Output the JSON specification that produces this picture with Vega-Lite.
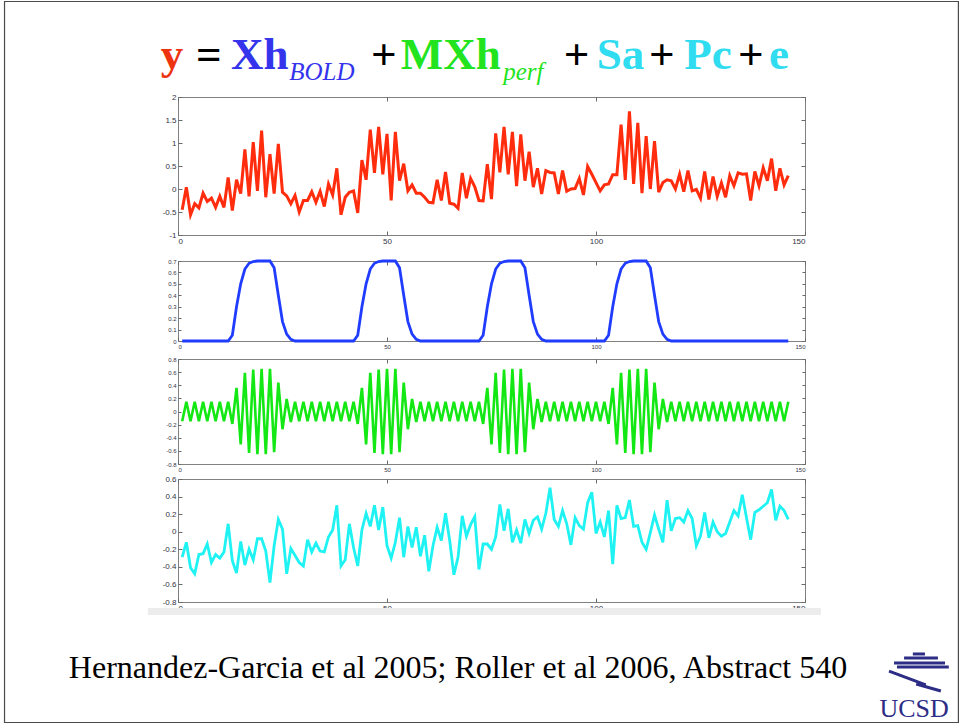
{
"$schema": "https://vega.github.io/schema/vega-lite/v6.json",
"background": "white",
"padding": {"left": 3, "top": 0, "right": 2, "bottom": 1},
"bounds": "flush",
"spacing": 0,
"config": {
  "view": {"stroke": "#808080", "strokeWidth": 1},
  "axis": {"grid": false, "domain": false, "labelFont": "Liberation Sans", "labelColor": "#333344", "tickColor": "#6a6a6a", "tickSize": -4, "labelPadding": 6, "zindex": 1}
},
"datasets": {
"sig": [
{"t":1,"y":-0.45,"b":0,"g":-0.15,"n":-0.29},{"t":2,"y":0.04,"b":0,"g":0.15,"n":-0.12},{"t":3,"y":-0.56,"b":0,"g":-0.15,"n":-0.41},{"t":4,"y":-0.32,"b":0,"g":0.15,"n":-0.48},{"t":5,"y":-0.41,"b":0,"g":-0.15,"n":-0.26},
{"t":6,"y":-0.09,"b":0,"g":0.15,"n":-0.25},{"t":7,"y":-0.27,"b":0,"g":-0.15,"n":-0.14},{"t":8,"y":-0.2,"b":0,"g":0.15,"n":-0.35},{"t":9,"y":-0.4,"b":0,"g":-0.15,"n":-0.26},{"t":10,"y":-0.16,"b":0,"g":0.15,"n":-0.3},
{"t":11,"y":-0.4,"b":0,"g":-0.15,"n":-0.23},{"t":12,"y":0.25,"b":0,"g":0.15,"n":0.09},{"t":13,"y":-0.47,"b":0.05,"g":-0.19,"n":-0.33},{"t":14,"y":0.2,"b":0.3,"g":0.36,"n":-0.47},{"t":15,"y":-0.1,"b":0.5,"g":-0.5,"n":-0.11},
{"t":16,"y":0.86,"b":0.63,"g":0.59,"n":-0.38},{"t":17,"y":-0.16,"b":0.68,"g":-0.63,"n":-0.2},{"t":18,"y":1.02,"b":0.695,"g":0.64,"n":-0.32},{"t":19,"y":-0.04,"b":0.7,"g":-0.65,"n":-0.08},{"t":20,"y":1.27,"b":0.7,"g":0.65,"n":-0.08},
{"t":21,"y":-0.18,"b":0.7,"g":-0.65,"n":-0.22},{"t":22,"y":0.76,"b":0.7,"g":0.65,"n":-0.58},{"t":23,"y":-0.1,"b":0.64,"g":-0.62,"n":-0.16},{"t":24,"y":0.98,"b":0.4,"g":0.44,"n":0.14},{"t":25,"y":-0.07,"b":0.17,"g":-0.27,"n":0.03},
{"t":26,"y":-0.15,"b":0.06,"g":0.19,"n":-0.48},{"t":27,"y":-0.32,"b":0.015,"g":-0.16,"n":-0.19},{"t":28,"y":-0.14,"b":0,"g":0.15,"n":-0.27},{"t":29,"y":-0.5,"b":0,"g":-0.15,"n":-0.35},{"t":30,"y":-0.25,"b":0,"g":0.15,"n":-0.39},
{"t":31,"y":-0.25,"b":0,"g":-0.15,"n":-0.09},{"t":32,"y":-0.06,"b":0,"g":0.15,"n":-0.23},{"t":33,"y":-0.29,"b":0,"g":-0.15,"n":-0.13},{"t":34,"y":-0.05,"b":0,"g":0.15,"n":-0.22},{"t":35,"y":-0.38,"b":0,"g":-0.15,"n":-0.23},
{"t":36,"y":0.11,"b":0,"g":0.15,"n":-0.06},{"t":37,"y":-0.13,"b":0,"g":-0.15,"n":0.02},{"t":38,"y":0.45,"b":0,"g":0.15,"n":0.3},{"t":39,"y":-0.56,"b":0,"g":-0.15,"n":-0.39},{"t":40,"y":-0.18,"b":0,"g":0.15,"n":-0.32},
{"t":41,"y":-0.07,"b":0,"g":-0.15,"n":0.09},{"t":42,"y":-0.04,"b":0,"g":0.15,"n":-0.18},{"t":43,"y":-0.52,"b":0.05,"g":-0.19,"n":-0.39},{"t":44,"y":0.63,"b":0.3,"g":0.36,"n":0.02},{"t":45,"y":0.2,"b":0.5,"g":-0.5,"n":0.21},
{"t":46,"y":1.29,"b":0.63,"g":0.59,"n":0.06},{"t":47,"y":0.35,"b":0.68,"g":-0.63,"n":0.3},{"t":48,"y":1.35,"b":0.695,"g":0.64,"n":0.02},{"t":49,"y":0.32,"b":0.7,"g":-0.65,"n":0.28},{"t":50,"y":1.2,"b":0.7,"g":0.65,"n":-0.16},
{"t":51,"y":-0.25,"b":0.7,"g":-0.65,"n":-0.3},{"t":52,"y":1.24,"b":0.7,"g":0.65,"n":-0.12},{"t":53,"y":0.18,"b":0.64,"g":-0.62,"n":0.16},{"t":54,"y":0.55,"b":0.4,"g":0.44,"n":-0.29},{"t":55,"y":-0.04,"b":0.17,"g":-0.27,"n":0.06},
{"t":56,"y":0.09,"b":0.06,"g":0.19,"n":-0.18},{"t":57,"y":-0.09,"b":0.015,"g":-0.16,"n":0.05},{"t":58,"y":-0.09,"b":0,"g":0.15,"n":-0.28},{"t":59,"y":-0.18,"b":0,"g":-0.15,"n":-0.04},{"t":60,"y":-0.29,"b":0,"g":0.15,"n":-0.45},
{"t":61,"y":-0.3,"b":0,"g":-0.15,"n":-0.16},{"t":62,"y":0.2,"b":0,"g":0.15,"n":0.05},{"t":63,"y":-0.25,"b":0,"g":-0.15,"n":-0.1},{"t":64,"y":0.37,"b":0,"g":0.15,"n":0.21},{"t":65,"y":-0.31,"b":0,"g":-0.15,"n":-0.1},
{"t":66,"y":-0.33,"b":0,"g":0.15,"n":-0.49},{"t":67,"y":-0.42,"b":0,"g":-0.15,"n":-0.29},{"t":68,"y":0.35,"b":0,"g":0.15,"n":0.18},{"t":69,"y":-0.2,"b":0,"g":-0.15,"n":-0.05},{"t":70,"y":0.23,"b":0,"g":0.15,"n":0.08},
{"t":71,"y":0.05,"b":0,"g":-0.15,"n":0.17},{"t":72,"y":-0.25,"b":0,"g":0.15,"n":-0.43},{"t":73,"y":-0.26,"b":0.05,"g":-0.19,"n":-0.14},{"t":74,"y":0.54,"b":0.3,"g":0.36,"n":-0.14},{"t":75,"y":-0.22,"b":0.5,"g":-0.5,"n":-0.2},
{"t":76,"y":1.21,"b":0.63,"g":0.59,"n":-0.06},{"t":77,"y":0.36,"b":0.68,"g":-0.63,"n":0.31},{"t":78,"y":1.35,"b":0.695,"g":0.64,"n":0.01},{"t":79,"y":0.32,"b":0.7,"g":-0.65,"n":0.26},{"t":80,"y":1.24,"b":0.7,"g":0.65,"n":-0.12},
{"t":81,"y":0.06,"b":0.7,"g":-0.65,"n":0.02},{"t":82,"y":1.19,"b":0.7,"g":0.65,"n":-0.13},{"t":83,"y":0.18,"b":0.64,"g":-0.62,"n":0.14},{"t":84,"y":0.81,"b":0.4,"g":0.44,"n":-0.02},{"t":85,"y":0.04,"b":0.17,"g":-0.27,"n":0.13},
{"t":86,"y":0.45,"b":0.06,"g":0.19,"n":0.17},{"t":87,"y":-0.11,"b":0.015,"g":-0.16,"n":0.03},{"t":88,"y":0.4,"b":0,"g":0.15,"n":0.21},{"t":89,"y":0.36,"b":0,"g":-0.15,"n":0.5},{"t":90,"y":0.35,"b":0,"g":0.15,"n":0.14},
{"t":91,"y":-0.11,"b":0,"g":-0.15,"n":0.06},{"t":92,"y":0.4,"b":0,"g":0.15,"n":0.24},{"t":93,"y":-0.05,"b":0,"g":-0.15,"n":0.09},{"t":94,"y":0.0,"b":0,"g":0.15,"n":-0.15},{"t":95,"y":0.01,"b":0,"g":-0.15,"n":0.16},
{"t":96,"y":0.23,"b":0,"g":0.15,"n":0.07},{"t":97,"y":-0.13,"b":0,"g":-0.15,"n":0.03},{"t":98,"y":0.49,"b":0,"g":0.15,"n":0.33},{"t":99,"y":0.32,"b":0,"g":-0.15,"n":0.45},{"t":100,"y":0.14,"b":0,"g":0.15,"n":-0.02},
{"t":101,"y":-0.04,"b":0,"g":-0.15,"n":0.11},{"t":102,"y":0.09,"b":0,"g":0.15,"n":-0.06},{"t":103,"y":0.11,"b":0.05,"g":-0.19,"n":0.24},{"t":104,"y":0.31,"b":0.3,"g":0.36,"n":-0.37},{"t":105,"y":0.31,"b":0.5,"g":-0.5,"n":0.3},
{"t":106,"y":1.4,"b":0.63,"g":0.59,"n":0.15},{"t":107,"y":0.2,"b":0.68,"g":-0.63,"n":0.16},{"t":108,"y":1.69,"b":0.695,"g":0.64,"n":0.36},{"t":109,"y":0.11,"b":0.7,"g":-0.65,"n":0.06},{"t":110,"y":1.44,"b":0.7,"g":0.65,"n":0.07},
{"t":111,"y":-0.09,"b":0.7,"g":-0.65,"n":-0.12},{"t":112,"y":1.15,"b":0.7,"g":0.65,"n":-0.2},{"t":113,"y":0.0,"b":0.64,"g":-0.62,"n":-0.01},{"t":114,"y":1.04,"b":0.4,"g":0.44,"n":0.19},{"t":115,"y":-0.07,"b":0.17,"g":-0.27,"n":0.03},
{"t":116,"y":0.14,"b":0.06,"g":0.19,"n":-0.12},{"t":117,"y":0.2,"b":0.015,"g":-0.16,"n":0.36},{"t":118,"y":0.18,"b":0,"g":0.15,"n":0.01},{"t":119,"y":0.0,"b":0,"g":-0.15,"n":0.15},{"t":120,"y":0.32,"b":0,"g":0.15,"n":0.16},
{"t":121,"y":-0.06,"b":0,"g":-0.15,"n":0.11},{"t":122,"y":0.4,"b":0,"g":0.15,"n":0.24},{"t":123,"y":-0.04,"b":0,"g":-0.15,"n":0.15},{"t":124,"y":-0.01,"b":0,"g":0.15,"n":-0.16},{"t":125,"y":-0.2,"b":0,"g":-0.15,"n":-0.05},
{"t":126,"y":0.38,"b":0,"g":0.15,"n":0.22},{"t":127,"y":-0.23,"b":0,"g":-0.15,"n":-0.07},{"t":128,"y":0.27,"b":0,"g":0.15,"n":0.11},{"t":129,"y":-0.16,"b":0,"g":-0.15,"n":0.0},{"t":130,"y":0.13,"b":0,"g":0.15,"n":-0.05},
{"t":131,"y":-0.18,"b":0,"g":-0.15,"n":-0.02},{"t":132,"y":0.29,"b":0,"g":0.15,"n":0.11},{"t":133,"y":0.07,"b":0,"g":-0.15,"n":0.24},{"t":134,"y":0.35,"b":0,"g":0.15,"n":0.18},{"t":135,"y":0.32,"b":0,"g":-0.15,"n":0.42},
{"t":136,"y":0.33,"b":0,"g":0.15,"n":0.16},{"t":137,"y":-0.25,"b":0,"g":-0.15,"n":-0.09},{"t":138,"y":0.38,"b":0,"g":0.15,"n":0.22},{"t":139,"y":0.07,"b":0,"g":-0.15,"n":0.25},{"t":140,"y":0.46,"b":0,"g":0.15,"n":0.29},
{"t":141,"y":0.18,"b":0,"g":-0.15,"n":0.33},{"t":142,"y":0.66,"b":0,"g":0.15,"n":0.48},{"t":143,"y":-0.04,"b":0,"g":-0.15,"n":0.13},{"t":144,"y":0.45,"b":0,"g":0.15,"n":0.29},{"t":145,"y":0.09,"b":0,"g":-0.15,"n":0.24},
{"t":146,"y":0.29,"b":0,"g":0.15,"n":0.14}
],
"eq": [
{"txt":"y","at":-4.1,"h":0.29,"term":"y","sub":false},
{"txt":"=","at":4.3,"h":0.29,"term":"op","sub":false},
{"txt":"Xh","at":12.7,"h":0.29,"term":"bold","sub":false},
{"txt":"BOLD","at":26.6,"h":0.177,"term":"bold","sub":true},
{"txt":"+","at":46.2,"h":0.29,"term":"op","sub":false},
{"txt":"MXh","at":53.3,"h":0.29,"term":"perf","sub":false},
{"txt":"perf","at":77.8,"h":0.177,"term":"perf","sub":true},
{"txt":"+","at":92.3,"h":0.29,"term":"op","sub":false},
{"txt":"Sa","at":100.2,"h":0.29,"term":"conf","sub":false},
{"txt":"+","at":112.7,"h":0.29,"term":"op","sub":false},
{"txt":"Pc","at":121.1,"h":0.29,"term":"conf","sub":false},
{"txt":"+","at":134.0,"h":0.29,"term":"op","sub":false},
{"txt":"e","at":141.4,"h":0.29,"term":"conf","sub":false}
],
"foot": [
{"txt":"Hernandez-Garcia et al 2005; Roller et al 2006, Abstract 540","at":67.0,"h":0.377,"kind":"cite"},
{"txt":"UCSD","at":176.1,"h":0.06,"kind":"logo"}
],
"frame": [{"x1":-41.5,"x2":186.7,"y1":0.012,"y2":5.922}],
"band": [{"x1":-7.2,"x2":153.8,"y1":0.893,"y2":0.951}],
"logo": [
{"x1":175.8,"x2":178.7,"y1":0.574,"y2":0.574},
{"x1":173.7,"x2":181.8,"y1":0.541,"y2":0.541},
{"x1":171.3,"x2":183.5,"y1":0.5,"y2":0.5},
{"x1":172.0,"x2":184.4,"y1":0.467,"y2":0.467},
{"x1":170.1,"x2":178.9,"y1":0.434,"y2":0.32},
{"x1":176.6,"x2":182.5,"y1":0.328,"y2":0.27}
]
},
"vconcat": [
{
 "width": 627, "height": 96, "view": {"stroke": null},
 "data": {"name": "eq"},
 "encoding": {
   "x": {"field": "at", "type": "quantitative", "scale": {"domain": [0, 150], "nice": false}, "axis": null},
   "y": {"field": "h", "type": "quantitative", "scale": {"domain": [0, 1], "nice": false}, "axis": null},
   "text": {"field": "txt"},
   "color": {"field": "term", "type": "nominal", "scale": {"domain": ["y", "bold", "perf", "conf", "op"], "range": ["#ee3311", "#3434ec", "#22e41e", "#30dcef", "#000000"]}, "legend": null}
 },
 "layer": [
  {"transform": [{"filter": "!datum.sub"}], "mark": {"type": "text", "align": "left", "baseline": "alphabetic", "font": "Liberation Serif", "fontWeight": "bold", "fontSize": 45}},
  {"transform": [{"filter": "datum.sub"}], "mark": {"type": "text", "align": "left", "baseline": "alphabetic", "font": "Liberation Serif", "fontStyle": "italic", "fontSize": 25}}
 ]
},
{
 "width": 627, "height": 138,
 "data": {"name": "sig"},
 "layer": [
  {"mark": {"type": "line", "color": "#ff2d0d", "strokeWidth": 3},
   "encoding": {
    "x": {"field": "t", "type": "quantitative", "title": null, "scale": {"domain": [0, 150], "nice": false}, "axis": {"orient": "bottom", "values": [0, 50, 100, 150], "labelFontSize": 8, "labelExpr": "'' + datum.value"}},
    "y": {"field": "y", "type": "quantitative", "title": null, "scale": {"domain": [-1, 2], "nice": false}, "axis": {"orient": "left", "values": [-1, -0.5, 0, 0.5, 1, 1.5, 2], "labelFontSize": 8, "labelExpr": "'' + datum.value"}}}},
  {"mark": {"type": "line", "opacity": 0},
   "encoding": {
    "x": {"field": "t", "type": "quantitative", "title": null, "scale": {"domain": [0, 150], "nice": false}, "axis": {"orient": "top", "values": [0, 50, 100, 150], "labels": false}},
    "y": {"field": "y", "type": "quantitative", "title": null, "scale": {"domain": [-1, 2], "nice": false}, "axis": {"orient": "right", "values": [-1, -0.5, 0, 0.5, 1, 1.5, 2], "labels": false}}}}
 ],
 "resolve": {"axis": {"x": "independent", "y": "independent"}}
},
{"width": 627, "height": 26, "view": {"stroke": null}, "data": {"values": [{}]}, "mark": {"type": "text", "text": ""}},
{
 "width": 627, "height": 80,
 "data": {"name": "sig"},
 "layer": [
  {"mark": {"type": "line", "color": "#1f3cff", "strokeWidth": 2.8},
   "encoding": {
    "x": {"field": "t", "type": "quantitative", "title": null, "scale": {"domain": [0, 150], "nice": false}, "axis": {"orient": "bottom", "values": [0, 50, 100, 150], "labelFontSize": 6, "labelExpr": "'' + datum.value"}},
    "y": {"field": "b", "type": "quantitative", "title": null, "scale": {"domain": [0, 0.7], "nice": false}, "axis": {"orient": "left", "values": [0, 0.1, 0.2, 0.3, 0.4, 0.5, 0.6, 0.7], "labelFontSize": 6, "tickSize": -3, "labelPadding": 5, "labelExpr": "'' + datum.value"}}}},
  {"mark": {"type": "line", "opacity": 0},
   "encoding": {
    "x": {"field": "t", "type": "quantitative", "title": null, "scale": {"domain": [0, 150], "nice": false}, "axis": {"orient": "top", "values": [0, 50, 100, 150], "labels": false}},
    "y": {"field": "b", "type": "quantitative", "title": null, "scale": {"domain": [0, 0.7], "nice": false}, "axis": {"orient": "right", "values": [0, 0.1, 0.2, 0.3, 0.4, 0.5, 0.6, 0.7], "labels": false, "tickSize": -3}}}}
 ],
 "resolve": {"axis": {"x": "independent", "y": "independent"}}
},
{"width": 627, "height": 18, "view": {"stroke": null}, "data": {"values": [{}]}, "mark": {"type": "text", "text": ""}},
{
 "width": 627, "height": 105,
 "data": {"name": "sig"},
 "layer": [
  {"mark": {"type": "line", "color": "#14e814", "strokeWidth": 2.6},
   "encoding": {
    "x": {"field": "t", "type": "quantitative", "title": null, "scale": {"domain": [0, 150], "nice": false}, "axis": {"orient": "bottom", "values": [0, 50, 100, 150], "labelFontSize": 6, "labelExpr": "'' + datum.value"}},
    "y": {"field": "g", "type": "quantitative", "title": null, "scale": {"domain": [-0.8, 0.8], "nice": false}, "axis": {"orient": "left", "values": [-0.8, -0.6, -0.4, -0.2, 0, 0.2, 0.4, 0.6, 0.8], "labelFontSize": 6, "tickSize": -3, "labelPadding": 5, "labelExpr": "'' + datum.value"}}}},
  {"mark": {"type": "line", "opacity": 0},
   "encoding": {
    "x": {"field": "t", "type": "quantitative", "title": null, "scale": {"domain": [0, 150], "nice": false}, "axis": {"orient": "top", "values": [0, 50, 100, 150], "labels": false}},
    "y": {"field": "g", "type": "quantitative", "title": null, "scale": {"domain": [-0.8, 0.8], "nice": false}, "axis": {"orient": "right", "values": [-0.8, -0.6, -0.4, -0.2, 0, 0.2, 0.4, 0.6, 0.8], "labels": false, "tickSize": -3}}}}
 ],
 "resolve": {"axis": {"x": "independent", "y": "independent"}}
},
{"width": 627, "height": 15, "view": {"stroke": null}, "data": {"values": [{}]}, "mark": {"type": "text", "text": ""}},
{
 "width": 627, "height": 123,
 "data": {"name": "sig"},
 "layer": [
  {"mark": {"type": "line", "color": "#1ff2f2", "strokeWidth": 2.8},
   "encoding": {
    "x": {"field": "t", "type": "quantitative", "title": null, "scale": {"domain": [0, 150], "nice": false}, "axis": {"orient": "bottom", "values": [0, 50, 100, 150], "labelFontSize": 8, "labelExpr": "'' + datum.value"}},
    "y": {"field": "n", "type": "quantitative", "title": null, "scale": {"domain": [-0.8, 0.6], "nice": false}, "axis": {"orient": "left", "values": [-0.8, -0.6, -0.4, -0.2, 0, 0.2, 0.4, 0.6], "labelFontSize": 8, "labelExpr": "'' + datum.value"}}}},
  {"mark": {"type": "line", "opacity": 0},
   "encoding": {
    "x": {"field": "t", "type": "quantitative", "title": null, "scale": {"domain": [0, 150], "nice": false}, "axis": {"orient": "top", "values": [0, 50, 100, 150], "labels": false}},
    "y": {"field": "n", "type": "quantitative", "title": null, "scale": {"domain": [-0.8, 0.6], "nice": false}, "axis": {"orient": "right", "values": [-0.8, -0.6, -0.4, -0.2, 0, 0.2, 0.4, 0.6], "labels": false}}}}
 ],
 "resolve": {"axis": {"x": "independent", "y": "independent"}}
},
{
 "width": 627, "height": 122, "view": {"stroke": null},
 "layer": [
  {"data": {"name": "band"}, "mark": {"type": "rect", "color": "#ececec"},
   "encoding": {
    "x": {"field": "x1", "type": "quantitative", "scale": {"domain": [0, 150], "nice": false}, "axis": null},
    "x2": {"field": "x2"},
    "y": {"field": "y1", "type": "quantitative", "scale": {"domain": [0, 1], "nice": false}, "axis": null},
    "y2": {"field": "y2"}}},
  {"data": {"name": "frame"}, "mark": {"type": "rect", "filled": false, "stroke": "#4a4a4a", "strokeWidth": 1.2},
   "encoding": {
    "x": {"field": "x1", "type": "quantitative", "axis": null},
    "x2": {"field": "x2"},
    "y": {"field": "y1", "type": "quantitative", "axis": null},
    "y2": {"field": "y2"}}},
  {"data": {"name": "foot"}, "transform": [{"filter": "datum.kind == 'cite'"}],
   "mark": {"type": "text", "align": "center", "baseline": "alphabetic", "font": "Liberation Serif", "fontSize": 32, "color": "#000000"},
   "encoding": {
    "x": {"field": "at", "type": "quantitative", "axis": null},
    "y": {"field": "h", "type": "quantitative", "axis": null},
    "text": {"field": "txt"}}},
  {"data": {"name": "foot"}, "transform": [{"filter": "datum.kind == 'logo'"}],
   "mark": {"type": "text", "align": "center", "baseline": "alphabetic", "font": "Liberation Serif", "fontSize": 26, "color": "#2d2d86"},
   "encoding": {
    "x": {"field": "at", "type": "quantitative", "axis": null},
    "y": {"field": "h", "type": "quantitative", "axis": null},
    "text": {"field": "txt"}}},
  {"data": {"name": "logo"}, "mark": {"type": "rule", "color": "#2d2d86", "strokeWidth": 3},
   "encoding": {
    "x": {"field": "x1", "type": "quantitative", "axis": null},
    "x2": {"field": "x2"},
    "y": {"field": "y1", "type": "quantitative", "axis": null},
    "y2": {"field": "y2"}}}
 ]
}
]
}
